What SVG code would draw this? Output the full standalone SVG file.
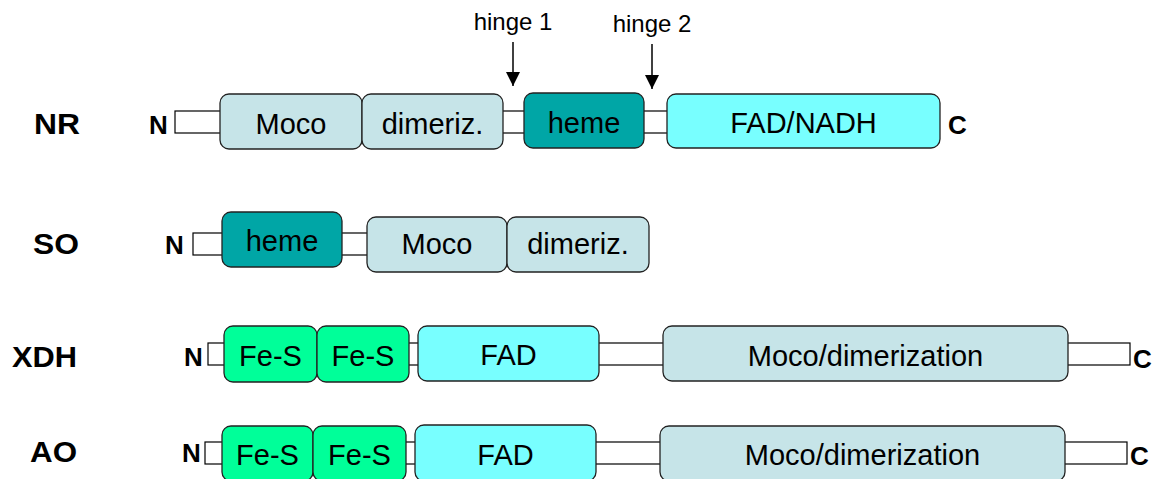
<svg xmlns="http://www.w3.org/2000/svg" width="1162" height="479" viewBox="0 0 1162 479">
<defs>
<style>
.bar{fill:#ffffff;stroke:#000;stroke-width:1.2}
.box{stroke:#222;stroke-width:1.3}
.moco{fill:#C6E4E8}
.heme{fill:#00A6A6}
.fad{fill:#78FFFF}
.fes{fill:#00FF99}
.t{font-family:"Liberation Sans",Arial,sans-serif;font-size:29px;fill:#000;text-anchor:middle}
.lab{font-family:"Liberation Sans",Arial,sans-serif;font-size:29px;font-weight:bold;fill:#000}
.nc{font-family:"Liberation Sans",Arial,sans-serif;font-size:26px;font-weight:bold;fill:#000}
.h{font-family:"Liberation Sans",Arial,sans-serif;font-size:24px;fill:#000;text-anchor:middle}
.arr{stroke:#000;stroke-width:1.5;fill:none}
</style>
<marker id="ah" viewBox="0 0 14 14" refX="14" refY="7" markerWidth="14" markerHeight="14" markerUnits="userSpaceOnUse" orient="auto">
<path d="M0,0 L14,7 L0,14 Z" fill="#000"/>
</marker>
</defs>

<g id="connectors">
<line class="arr" x1="513" y1="42" x2="513" y2="86" marker-end="url(#ah)"/>
<line class="arr" x1="652" y1="44" x2="652" y2="89" marker-end="url(#ah)"/>
</g>

<g id="hinge1"><text class="h" x="513" y="30">hinge 1</text></g>
<g id="hinge2"><text class="h" x="652" y="32">hinge 2</text></g>

<!-- NR -->
<g id="NR">
<text class="lab" x="34" y="134" textLength="46" lengthAdjust="spacingAndGlyphs">NR</text>
<text class="nc" x="149" y="134">N</text>
<rect class="bar" x="175" y="111" width="500" height="22"/>
<g id="NR-moco"><rect class="box moco" x="220" y="94" width="142" height="55" rx="9"/><text class="t" x="291" y="134">Moco</text></g>
<g id="NR-dimeriz"><rect class="box moco" x="362" y="94" width="141" height="55" rx="9"/><text class="t" x="432.5" y="134">dimeriz.</text></g>
<g id="NR-heme"><rect class="box heme" x="524" y="93" width="120" height="55" rx="9"/><text class="t" x="584" y="133">heme</text></g>
<g id="NR-fad"><rect class="box fad" x="667" y="94" width="273" height="54" rx="9"/><text class="t" x="803.5" y="133">FAD/NADH</text></g>
<text class="nc" x="948" y="134">C</text>
</g>

<!-- SO -->
<g id="SO">
<text class="lab" x="33" y="254" textLength="46" lengthAdjust="spacingAndGlyphs">SO</text>
<text class="nc" x="165" y="254">N</text>
<rect class="bar" x="193" y="233" width="190" height="22"/>
<g id="SO-heme"><rect class="box heme" x="222" y="212" width="120" height="55" rx="9"/><text class="t" x="282" y="251">heme</text></g>
<g id="SO-moco"><rect class="box moco" x="367" y="217" width="140" height="55" rx="9"/><text class="t" x="437" y="254">Moco</text></g>
<g id="SO-dimeriz"><rect class="box moco" x="507" y="217" width="142" height="55" rx="9"/><text class="t" x="578" y="254">dimeriz.</text></g>
</g>

<!-- XDH -->
<g id="XDH">
<text class="lab" x="12" y="367" textLength="65" lengthAdjust="spacingAndGlyphs">XDH</text>
<text class="nc" x="184" y="366">N</text>
<rect class="bar" x="208" y="343" width="922" height="22"/>
<g id="XDH-fes1"><rect class="box fes" x="224" y="326" width="93" height="56" rx="9"/><text class="t" x="270.5" y="366">Fe-S</text></g>
<g id="XDH-fes2"><rect class="box fes" x="317" y="326" width="92" height="56" rx="9"/><text class="t" x="363" y="366">Fe-S</text></g>
<g id="XDH-fad"><rect class="box fad" x="418" y="326" width="181" height="55" rx="9"/><text class="t" x="508.5" y="365">FAD</text></g>
<g id="XDH-moco"><rect class="box moco" x="663" y="326" width="405" height="55" rx="9"/><text class="t" x="865.5" y="366">Moco/dimerization</text></g>
<text class="nc" x="1133" y="368">C</text>
</g>

<!-- AO -->
<g id="AO">
<text class="lab" x="30" y="462" textLength="47" lengthAdjust="spacingAndGlyphs">AO</text>
<text class="nc" x="182" y="462">N</text>
<rect class="bar" x="205" y="442" width="922" height="22"/>
<g id="AO-fes1"><rect class="box fes" x="222" y="426" width="91" height="55" rx="9"/><text class="t" x="267.5" y="465">Fe-S</text></g>
<g id="AO-fes2"><rect class="box fes" x="313" y="426" width="93" height="55" rx="9"/><text class="t" x="359.5" y="465">Fe-S</text></g>
<g id="AO-fad"><rect class="box fad" x="415" y="425" width="181" height="56" rx="9"/><text class="t" x="505.5" y="465">FAD</text></g>
<g id="AO-moco"><rect class="box moco" x="660" y="426" width="405" height="55" rx="9"/><text class="t" x="862.5" y="465">Moco/dimerization</text></g>
<text class="nc" x="1130" y="465">C</text>
</g>
</svg>
